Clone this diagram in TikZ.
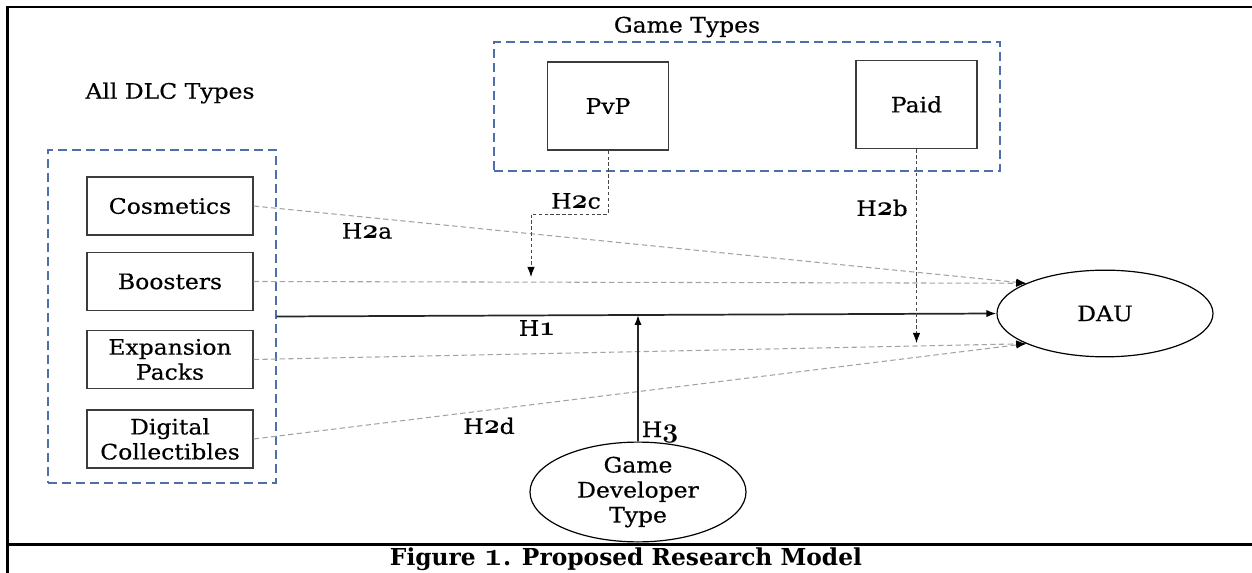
\documentclass[tikz,border=0pt]{standalone}
\usepackage{fontspec}
\setmainfont{DejaVu Serif}[FakeStretch=1.1,FakeBold=0.4]
\newfontfamily\captionfont{DejaVu Serif Bold}
\usetikzlibrary{arrows.meta,calc,shapes.geometric}

% old-style figures taken from the math italic font
\newcommand\osn[1]{{\fontsize{21}{20}\usefont{OML}{cmm}{b}{it}#1}}
\newcommand\osnb[1]{{\fontsize{24}{20}\usefont{OML}{cmm}{b}{it}#1}}

\definecolor{boxgray}{HTML}{3C3C3C}
\definecolor{groupblue}{HTML}{4F6FA8}
\definecolor{linegray}{HTML}{A3A3A3}
\definecolor{modgray}{HTML}{474747}
\definecolor{maingray}{HTML}{262626}

\begin{document}
\begin{tikzpicture}[x=0.75pt,y=-0.75pt,
  font=\fontsize{16}{18.75}\selectfont,
  dlcbox/.style={draw=boxgray, line width=1.1pt, minimum width=124.5pt,
    minimum height=43.5pt, align=center, inner sep=0pt},
  typebox/.style={draw=boxgray, line width=1.1pt, minimum width=90.75pt,
    minimum height=66pt, inner sep=0pt},
  groupbox/.style={draw=groupblue, line width=1.1pt,
    dash pattern=on 6.5pt off 4pt, inner sep=0pt},
  construct/.style={ellipse, draw=black, line width=0.9pt,
    minimum width=162pt, minimum height=65pt, inner sep=0pt, align=center},
  tip/.style={-{Latex[length=7.5pt,width=5.5pt,color=black]}},
  effect/.style={tip, draw=linegray, line width=0.8pt,
    dash pattern=on 4pt off 2.5pt},
  moderator/.style={tip, draw=modgray, line width=0.6pt,
    dash pattern=on 2.6pt off 1.8pt},
  maineffect/.style={tip, draw=maingray, line width=1.3pt},
  lbl/.style={inner sep=0pt}
]
\useasboundingbox (0,0) rectangle (1252,573);

% figure frame and caption rule
\draw[line width=1.7pt] (7.5,573) -- (7.5,7) -- (1252,7);
\draw[line width=1.9pt] (7.5,544.5) -- (1252,544.5);

% DLC group
\node[lbl] (dlclabel) at (170,93) {All DLC Types};
\node[groupbox, minimum width=171pt, minimum height=249.75pt] (dlc) at (162,316.5) {};
\node[dlcbox] (cos) at (170,206) {Cosmetics};
\node[dlcbox] (boo) at (170,281.5) {Boosters};
\node[dlcbox] (exp) at (170,359.5) {Expansion\\Packs};
\node[dlcbox] (dig) at (170,439) {Digital\\Collectibles};

% game type group
\node[lbl] (gtlabel) at (687,27) {Game Types};
\node[groupbox, minimum width=379.5pt, minimum height=96.75pt] (gt) at (747,106.5) {};
\node[typebox] (pvp) at (608,106) {PvP};
\node[typebox] (paid) at (916.5,104.5) {Paid};

% outcome and developer type
\node[construct] (dau) at (1105,313.5) {DAU};
\node[construct] (gdt) at (638,492) {Game\\Developer\\Type};

% direct effects of each DLC type
\draw[effect] (cos.east) -- (dau.159);
\draw[effect] (boo.east) -- (dau.159);
\draw[effect] (exp.east) -- (dau.201);
\draw[effect] (dig.east) -- (dau.201);

% main effect and developer-type moderation
\draw[maineffect] (dlc.east) -- (dau.west);
\coordinate (h3end) at ($(dlc.east)!0.502!(dau.west)$);
\draw[maineffect] (gdt.north) -- (h3end);

% game-type moderation
\coordinate (h2cbend) at (531,214);
\coordinate (h2cend) at (531,277);
\draw[moderator] (pvp.south) |- (h2cbend) -- (h2cend);
\coordinate (h2bend) at (916.5,343);
\draw[moderator] (paid.south) -- (h2bend);

% hypothesis labels
\node[lbl] (h2a) at (367,231) {H\osn{2}a};
\node[lbl] (h2c) at (576,201) {H\osn{2}c};
\node[lbl] (h2b) at (882,208) {H\osn{2}b};
\node[lbl] (h1) at (537,328) {H\osn{1}};
\node[lbl] (h2d) at (489,426) {H\osn{2}d};
\node[lbl] (h3) at (660,432) {H\osn{3}};

% caption
\node[lbl, font=\captionfont\fontsize{17.5}{20}\selectfont] (caption) at (626,559.5)
  {Figure \osnb{1}. Proposed Research Model};
\end{tikzpicture}
\end{document}
